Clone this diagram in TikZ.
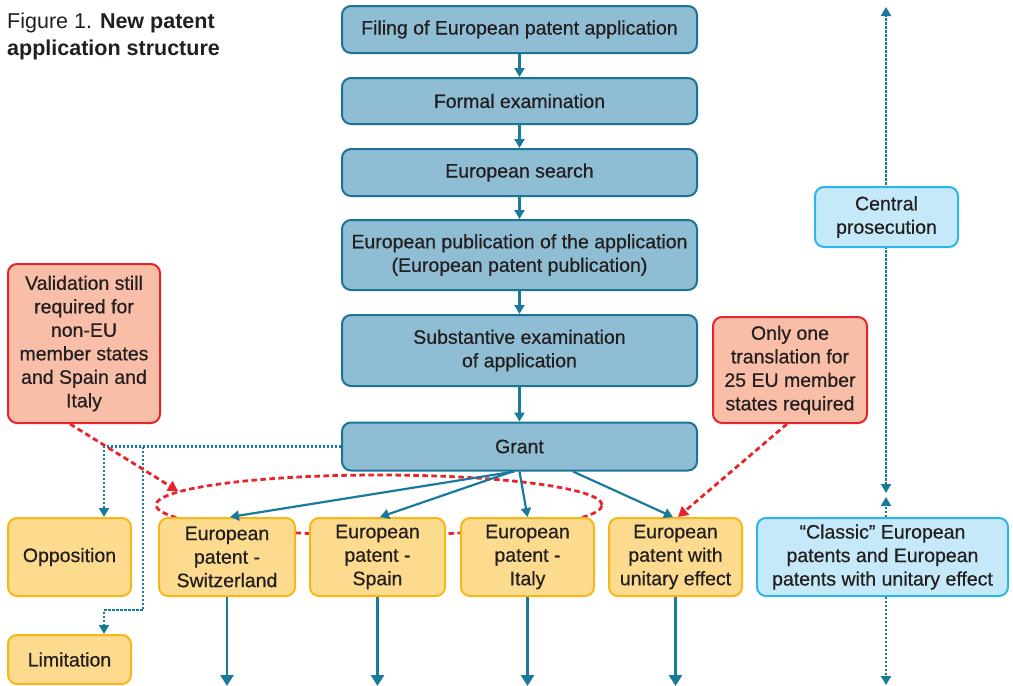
\documentclass[tikz,border=0pt]{standalone}
\usepackage{fontspec}
\setmainfont{Liberation Sans}
\newfontfamily\medfont{Liberation Sans}[FakeBold=0.6]
\usetikzlibrary{arrows.meta,calc}
\definecolor{txt}{HTML}{231F20}
\definecolor{bfill}{HTML}{8FBDD3}
\definecolor{bline}{HTML}{1B7396}
\definecolor{tealc}{HTML}{1A7A9B}
\definecolor{rfill}{HTML}{F9BEA7}
\definecolor{rline}{HTML}{E8242B}
\definecolor{ofill}{HTML}{FDDB8E}
\definecolor{oline}{HTML}{F6B818}
\definecolor{lfill}{HTML}{C6E9F9}
\definecolor{lline}{HTML}{2CB5E8}
\begin{document}
\begin{tikzpicture}[x=1pt,y=-1pt,
 box/.style={rounded corners=9pt, line width=2pt, align=center, inner sep=0pt, text=txt, font=\medfont\fontsize{19.5}{23.5}\selectfont},
 bluebox/.style={box, draw=bline, fill=bfill, minimum width=355pt},
 redbox/.style={box, draw=rline, fill=rfill},
 orbox/.style={box, draw=oline, fill=ofill},
 ltbox/.style={box, draw=lline, fill=lfill},
 flow/.style={draw=tealc, line width=2.2pt, -{Triangle[length=9pt,width=10pt]}},
 bigflow/.style={draw=tealc, line width=2.6pt, -{Triangle[length=11pt,width=13pt]}},
 dotline/.style={draw=tealc, line width=2.4pt, dash pattern=on 2.2pt off 1.8pt},
 dottip/.style={-{Triangle[length=9pt,width=10pt]}},
 reddash/.style={draw=rline, line width=2.8pt, dash pattern=on 5.5pt off 3.5pt},
 redtip/.style={-{Triangle[length=10pt,width=11pt]}},
]
\useasboundingbox (0,0) rectangle (1013,686);

% title
\node[anchor=north west, align=left, inner sep=0pt, text=txt, font=\fontsize{21.5}{27}\selectfont] (title) at (7,13) {Figure 1. \textbf{New patent}\\\textbf{application structure}};

% background lines
\draw[reddash] (379,505) ellipse [x radius=223pt, y radius=30pt];
\coordinate (r1) at (886,493);
\coordinate (r2) at (886,7);
\coordinate (r3) at (886,497);
\coordinate (r4) at (886,685);
\draw[dotline, {Triangle[length=9pt,width=10pt]}-{Triangle[length=9pt,width=10pt]}] (r1) -- (r2);

% blue flow
\node[bluebox, minimum height=47pt] (filing) at (519.5,29.5) {Filing of European patent application};
\node[bluebox, minimum height=46pt] (formal) at (519.5,101) {Formal examination};
\node[bluebox, minimum height=47pt] (search) at (519.5,172.5) {European search};
\node[bluebox, minimum height=70pt] (pub) at (519.5,255) {European publication of the application\\(European patent publication)};
\node[bluebox, minimum height=71pt] (subst) at (519.5,350.5) {Substantive examination\\of application};
\node[bluebox, minimum height=48pt] (grant) at (519.5,446.5) {Grant};

% notes
\node[redbox, minimum width=152pt, minimum height=159pt] (valid) at (84,343.5) {Validation still\\required for\\non-EU\\member states\\and Spain and\\Italy};
\node[redbox, minimum width=154pt, minimum height=106pt] (only) at (790,370) {Only one\\translation for\\25 EU member\\states required};
\node[ltbox, minimum width=143pt, minimum height=60pt] (central) at (886.5,217) {Central\\prosecution};
\node[ltbox, minimum width=251pt, minimum height=78pt] (classic) at (882.5,557) {“Classic” European\\patents and European\\patents with unitary effect};

% outcome boxes
\node[orbox, minimum width=123pt, minimum height=78pt] (opp) at (69.5,557) {Opposition};
\node[orbox, minimum width=123pt, minimum height=49pt] (lim) at (69.5,659.5) {Limitation};
\node[orbox, minimum width=136pt, minimum height=78pt] (swiss) at (227,557) {European\\patent -\\Switzerland};
\node[orbox, minimum width=135pt, minimum height=78pt] (spain) at (377.5,557) {European\\patent -\\Spain};
\node[orbox, minimum width=133pt, minimum height=78pt] (italy) at (527.5,557) {European\\patent -\\Italy};
\node[orbox, minimum width=133pt, minimum height=78pt] (unit) at (675.5,557) {European\\patent with\\unitary effect};

% flow arrows
\draw[flow] (filing) -- (formal);
\draw[flow] (formal) -- (search);
\draw[flow] (search) -- (pub);
\draw[flow] (pub) -- (subst);
\draw[flow] (subst) -- (grant);

\draw[flow] ([xshift=-5pt]grant.south) -- ([xshift=3pt]swiss.north);
\draw[flow] ([xshift=-7pt]grant.south) -- ([xshift=2.5pt]spain.north);
\draw[flow] ([xshift=0pt]grant.south) -- ([xshift=0pt]italy.north);
\draw[flow] ([xshift=53.5pt]grant.south) -- ([xshift=-2.5pt]unit.north);

\coordinate (d1) at (227,686);
\coordinate (d2) at (377.5,686);
\coordinate (d3) at (527.5,686);
\coordinate (d4) at (675.5,686);
\draw[bigflow] (swiss) -- (d1);
\draw[bigflow] (spain) -- (d2);
\draw[bigflow] (italy) -- (d3);
\draw[bigflow] (unit) -- (d4);

% dotted teal connectors
\coordinate (oppin) at (104,517);
\coordinate (split) at (143,446.5);
\coordinate (limin) at (104,634);
\draw[dotline, dottip] (grant.west) -| (oppin);
\draw[dotline, dottip] (split) -- (143,610) -- (104,610) -- (limin);
\draw[dotline, dottip] (classic.north -| r3) -- (r3);
\draw[dotline, dottip] (classic.south -| r4) -- (r4);

% red dashed notes
\coordinate (etip) at (178,491);
\draw[reddash, redtip] ([xshift=-14pt]valid.south) -- (etip);
\draw[reddash, redtip] ([xshift=-3pt]only.south) -- ([xshift=2.5pt]unit.north);
\end{tikzpicture}
\end{document}
